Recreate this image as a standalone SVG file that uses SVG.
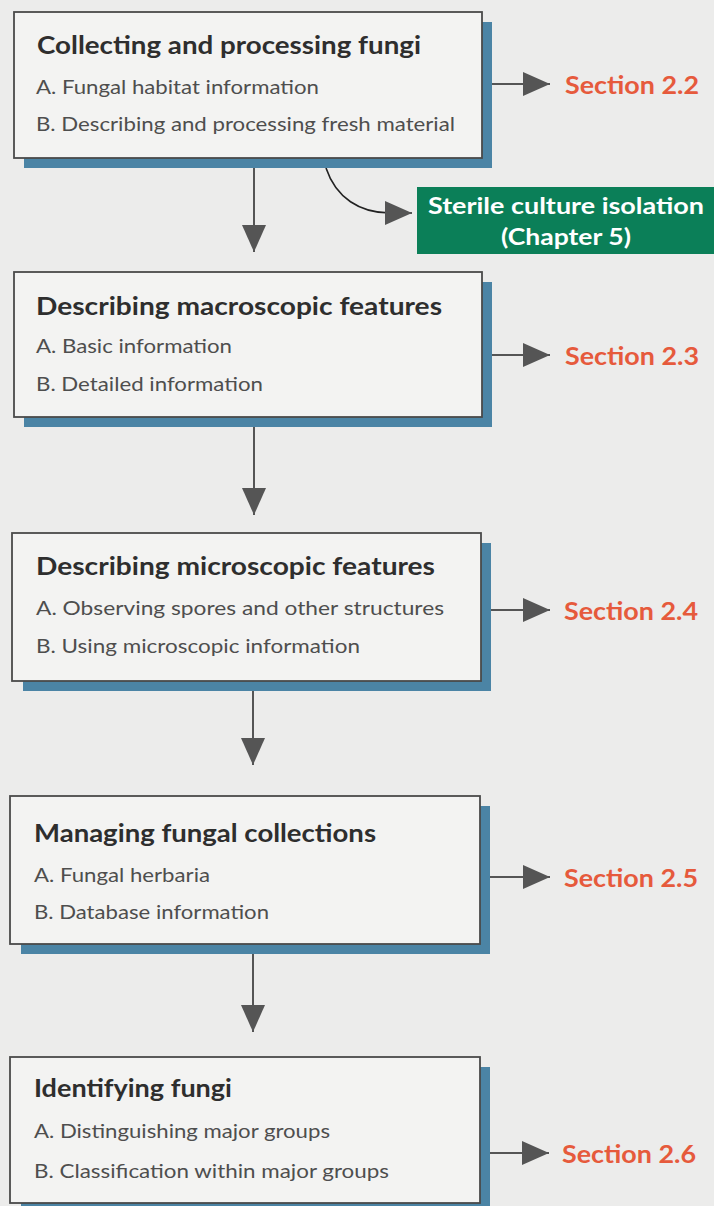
<svg xmlns="http://www.w3.org/2000/svg" width="714" height="1206" viewBox="0 0 714 1206">
<defs>
<style>
.bg{fill:#ececeb}
.shadow{fill:#4b84a5}
.box{fill:#f3f3f2;stroke:#4a4a4a;stroke-width:1.8}
.title{font-family:Lato,"Open Sans","Liberation Sans",sans-serif;font-weight:bold;font-size:24px;fill:#2e2e2e}
.item{font-family:Lato,"Open Sans","Liberation Sans",sans-serif;font-size:20px;fill:#4e4e4e}
.sec{font-family:Lato,"Open Sans","Liberation Sans",sans-serif;font-weight:bold;font-size:24px;fill:#e65a3c}
.green{fill:#0b7f58}
.gtext{font-family:Lato,"Open Sans","Liberation Sans",sans-serif;font-weight:bold;font-size:22px;fill:#ffffff}
.conn{stroke:#555;stroke-width:2;fill:none}
.curve{stroke:#222;stroke-width:1.6;fill:none}
</style>
<marker id="ah" markerUnits="userSpaceOnUse" markerWidth="28" markerHeight="24" refX="27" refY="12" orient="auto" viewBox="0 0 28 24">
<path d="M0,0 L27,12 L0,24 Z" fill="#555"/>
</marker>
</defs>
<rect class="bg" x="0" y="0" width="714" height="1206"/>

<g id="connectors">
<line class="conn" x1="492" y1="84" x2="550" y2="84" marker-end="url(#ah)"/>
<line class="conn" x1="492" y1="355" x2="550" y2="355" marker-end="url(#ah)"/>
<line class="conn" x1="491" y1="610" x2="550" y2="610" marker-end="url(#ah)"/>
<line class="conn" x1="490" y1="877" x2="550" y2="877" marker-end="url(#ah)"/>
<line class="conn" x1="490" y1="1153" x2="549" y2="1153" marker-end="url(#ah)"/>
<line class="conn" x1="254" y1="168" x2="254" y2="252" marker-end="url(#ah)"/>
<line class="conn" x1="254" y1="427" x2="254" y2="515" marker-end="url(#ah)"/>
<line class="conn" x1="253" y1="691" x2="253" y2="765" marker-end="url(#ah)"/>
<line class="conn" x1="253" y1="954" x2="253" y2="1032" marker-end="url(#ah)"/>
<path class="curve" d="M326,168 C336,198 360,213 390,213"/>
<line class="conn" x1="388" y1="213" x2="412" y2="213" marker-end="url(#ah)"/>
</g>

<g id="node-collecting">
<rect class="shadow" x="24" y="22" width="468" height="146"/>
<rect class="box" x="14" y="12" width="468" height="146"/>
<text class="title" x="37" y="54" textLength="384" lengthAdjust="spacingAndGlyphs">Collecting and processing fungi</text>
<text class="item" x="36" y="94" textLength="283" lengthAdjust="spacingAndGlyphs">A. Fungal habitat information</text>
<text class="item" x="36" y="131" textLength="419" lengthAdjust="spacingAndGlyphs">B. Describing and processing fresh material</text>
</g>

<g id="sec-2-2"><text class="sec" x="565" y="94" textLength="134" lengthAdjust="spacingAndGlyphs">Section 2.2</text></g>

<g id="node-sterile">
<rect class="green" x="417" y="187" width="297" height="67"/>
<text class="gtext" x="566" y="214" text-anchor="middle" textLength="276" lengthAdjust="spacingAndGlyphs">Sterile culture isolation</text>
<text class="gtext" x="566" y="245" text-anchor="middle" textLength="130" lengthAdjust="spacingAndGlyphs">(Chapter 5)</text>
</g>

<g id="node-macro">
<rect class="shadow" x="24" y="282" width="468" height="145"/>
<rect class="box" x="14" y="272" width="468" height="145"/>
<text class="title" x="36" y="315" textLength="406" lengthAdjust="spacingAndGlyphs">Describing macroscopic features</text>
<text class="item" x="36" y="353" textLength="196" lengthAdjust="spacingAndGlyphs">A. Basic information</text>
<text class="item" x="36" y="391" textLength="227" lengthAdjust="spacingAndGlyphs">B. Detailed information</text>
</g>

<g id="sec-2-3"><text class="sec" x="565" y="365" textLength="134" lengthAdjust="spacingAndGlyphs">Section 2.3</text></g>

<g id="node-micro">
<rect class="shadow" x="23" y="543" width="468" height="148"/>
<rect class="box" x="12" y="533" width="469" height="148"/>
<text class="title" x="36" y="575" textLength="399" lengthAdjust="spacingAndGlyphs">Describing microscopic features</text>
<text class="item" x="36" y="615" textLength="408" lengthAdjust="spacingAndGlyphs">A. Observing spores and other structures</text>
<text class="item" x="36" y="653" textLength="324" lengthAdjust="spacingAndGlyphs">B. Using microscopic information</text>
</g>

<g id="sec-2-4"><text class="sec" x="564" y="620" textLength="134" lengthAdjust="spacingAndGlyphs">Section 2.4</text></g>

<g id="node-managing">
<rect class="shadow" x="21" y="806" width="469" height="148"/>
<rect class="box" x="10" y="796" width="470" height="148"/>
<text class="title" x="34" y="842" textLength="342" lengthAdjust="spacingAndGlyphs">Managing fungal collections</text>
<text class="item" x="34" y="882" textLength="176" lengthAdjust="spacingAndGlyphs">A. Fungal herbaria</text>
<text class="item" x="34" y="919" textLength="235" lengthAdjust="spacingAndGlyphs">B. Database information</text>
</g>

<g id="sec-2-5"><text class="sec" x="564" y="887" textLength="134" lengthAdjust="spacingAndGlyphs">Section 2.5</text></g>

<g id="node-identifying">
<rect class="shadow" x="21" y="1067" width="469" height="146"/>
<rect class="box" x="10" y="1057" width="470" height="146"/>
<text class="title" x="34" y="1097" textLength="198" lengthAdjust="spacingAndGlyphs">Identifying fungi</text>
<text class="item" x="34" y="1138" textLength="296" lengthAdjust="spacingAndGlyphs">A. Distinguishing major groups</text>
<text class="item" x="34" y="1178" textLength="355" lengthAdjust="spacingAndGlyphs">B. Classification within major groups</text>
</g>

<g id="sec-2-6"><text class="sec" x="562" y="1163" textLength="134" lengthAdjust="spacingAndGlyphs">Section 2.6</text></g>
</svg>
